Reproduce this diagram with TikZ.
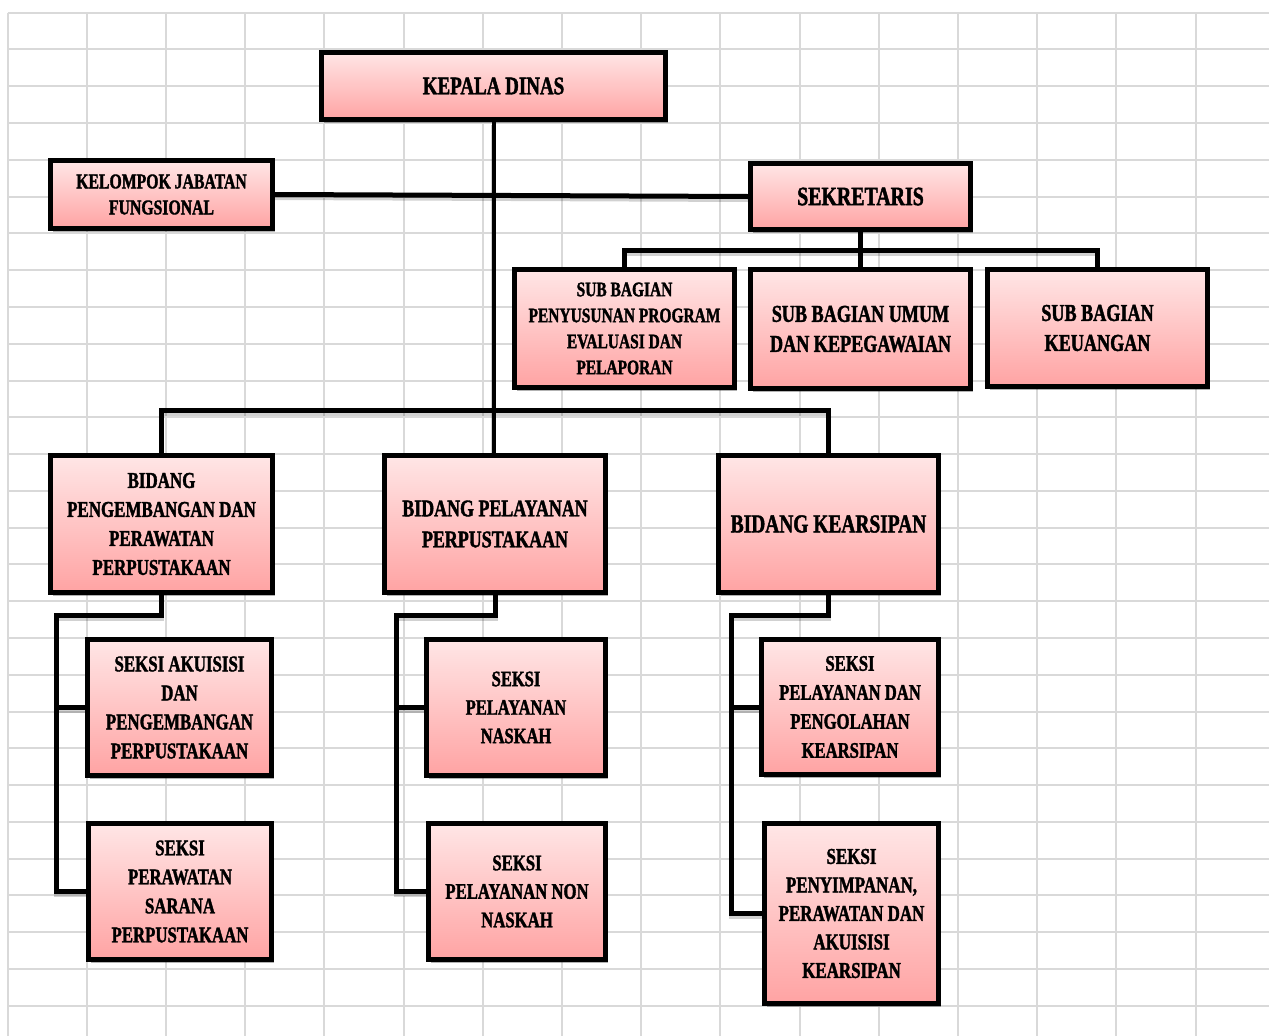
\documentclass[tikz,border=0pt]{standalone}
\usepackage{fontspec}
\newfontfamily\hfont{Liberation Serif}[FakeStretch=0.75, BoldFeatures={FakeBold=1.6}]
\usetikzlibrary{shadows}
\definecolor{gridgray}{HTML}{D9D9D9}
\definecolor{pinktop}{HTML}{FFE6E6}
\definecolor{pinkbot}{HTML}{FFA3A3}
\tikzset{
  gridline/.style={draw=gridgray, line width=2pt},
  orgbox/.style={draw=black, line width=5pt, rectangle, inner sep=0pt,
    top color=pinktop, bottom color=pinkbot, align=center,
    drop shadow={shadow xshift=2pt, shadow yshift=-3pt, opacity=0.3, fill=black}},
  conn/.style={draw=black, line width=5pt,
    preaction={draw=black, opacity=0.18, line width=5pt, transform canvas={yshift=-3pt}}},
  connthin/.style={conn, line width=4pt}
}
\newcommand{\fs}[2]{\hfont\bfseries\fontsize{#1}{#2}\selectfont}
\begin{document}
\begin{tikzpicture}[x=1pt, y=-1pt]
\useasboundingbox (0,0) rectangle (1269,1036);
\fill[white] (0,0) rectangle (1269,1036);
% grid
\foreach \i in {0,...,15} \draw[gridline] ({7.5+79.2*\i},12.7) -- ({7.5+79.2*\i},1036);
\foreach \j in {0,...,27} \draw[gridline] (7.5,{12.7+36.78*\j}) -- (1269,{12.7+36.78*\j});
% nodes
\node[orgbox, minimum width=344pt, minimum height=67pt, font={\fs{25.3}{30}}] (kd) at (493.5,86) {KEPALA DINAS};
\node[orgbox, minimum width=222pt, minimum height=68pt, font={\fs{21}{26}}] (kjf) at (161.5,194.5) {KELOMPOK JABATAN\\FUNGSIONAL};
\node[orgbox, minimum width=220pt, minimum height=66pt, font={\fs{26.5}{30}}] (sek) at (860.5,196.5) {SEKRETARIS};
\node[orgbox, minimum width=220pt, minimum height=118pt, font={\fs{20.6}{26}}] (sb1) at (624.5,328.5) {SUB BAGIAN\\PENYUSUNAN PROGRAM\\EVALUASI DAN\\PELAPORAN};
\node[orgbox, minimum width=220pt, minimum height=119pt, font={\fs{24.2}{30}}] (sb2) at (860.5,329) {SUB BAGIAN UMUM\\DAN KEPEGAWAIAN};
\node[orgbox, minimum width=220pt, minimum height=117pt, font={\fs{24.2}{30}}] (sb3) at (1097.5,328) {SUB BAGIAN\\KEUANGAN};
\node[orgbox, minimum width=222pt, minimum height=137pt, font={\fs{22.6}{29}}] (b1) at (161.5,524) {BIDANG\\PENGEMBANGAN DAN\\PERAWATAN\\PERPUSTAKAAN};
\node[orgbox, minimum width=221pt, minimum height=137pt, font={\fs{23.9}{31}}] (b2) at (495,524) {BIDANG PELAYANAN\\PERPUSTAKAAN};
\node[orgbox, minimum width=220pt, minimum height=137pt, font={\fs{25.9}{30}}] (b3) at (828.5,524) {BIDANG KEARSIPAN};
\node[orgbox, minimum width=184pt, minimum height=136pt, font={\fs{22.5}{29}}] (s11) at (179.5,707.5) {SEKSI AKUISISI\\DAN\\PENGEMBANGAN\\PERPUSTAKAAN};
\node[orgbox, minimum width=183pt, minimum height=136pt, font={\fs{22.4}{29}}] (s12) at (180,891.5) {SEKSI\\PERAWATAN\\SARANA\\PERPUSTAKAAN};
\node[orgbox, minimum width=179pt, minimum height=136pt, font={\fs{22}{28.5}}] (s21) at (516,707.5) {SEKSI\\PELAYANAN\\NASKAH};
\node[orgbox, minimum width=177pt, minimum height=136pt, font={\fs{22.3}{28.5}}] (s22) at (517,891.5) {SEKSI\\PELAYANAN NON\\NASKAH};
\node[orgbox, minimum width=177pt, minimum height=135pt, font={\fs{22.2}{29}}] (s31) at (850,707) {SEKSI\\PELAYANAN DAN\\PENGOLAHAN\\KEARSIPAN};
\node[orgbox, minimum width=174pt, minimum height=180pt, font={\fs{22.6}{28.5}}] (s32) at (851.5,913.5) {SEKSI\\PENYIMPANAN,\\PERAWATAN DAN\\AKUISISI\\KEARSIPAN};
% helper coordinates
\coordinate (busA) at (0,250);
\coordinate (busB) at (0,410);
\coordinate (l1) at (56,615);
\coordinate (l2) at (396,615);
\coordinate (l3) at (731,615);
% connectors
\draw[connthin] (kd.south) -- (kd.south |- b2.north);
\draw[conn] (kjf.east) -- (sek.west);
\draw[conn] (sek.south) -- (sb2.north);
\draw[conn] (sb1.north) |- (busA -| sb3.north) -- (sb3.north);
\draw[conn] (b1.north) |- (busB -| b3.north) -- (b3.north);
\draw[conn] (b1.south) |- (l1) |- (s12.west);
\draw[conn] (l1 |- s11.west) -- (s11.west);
\draw[conn] (b2.south) |- (l2) |- (s22.west);
\draw[conn] (l2 |- s21.west) -- (s21.west);
\draw[conn] (b3.south) |- (l3) |- (s32.west);
\draw[conn] (l3 |- s31.west) -- (s31.west);
\end{tikzpicture}
\end{document}
